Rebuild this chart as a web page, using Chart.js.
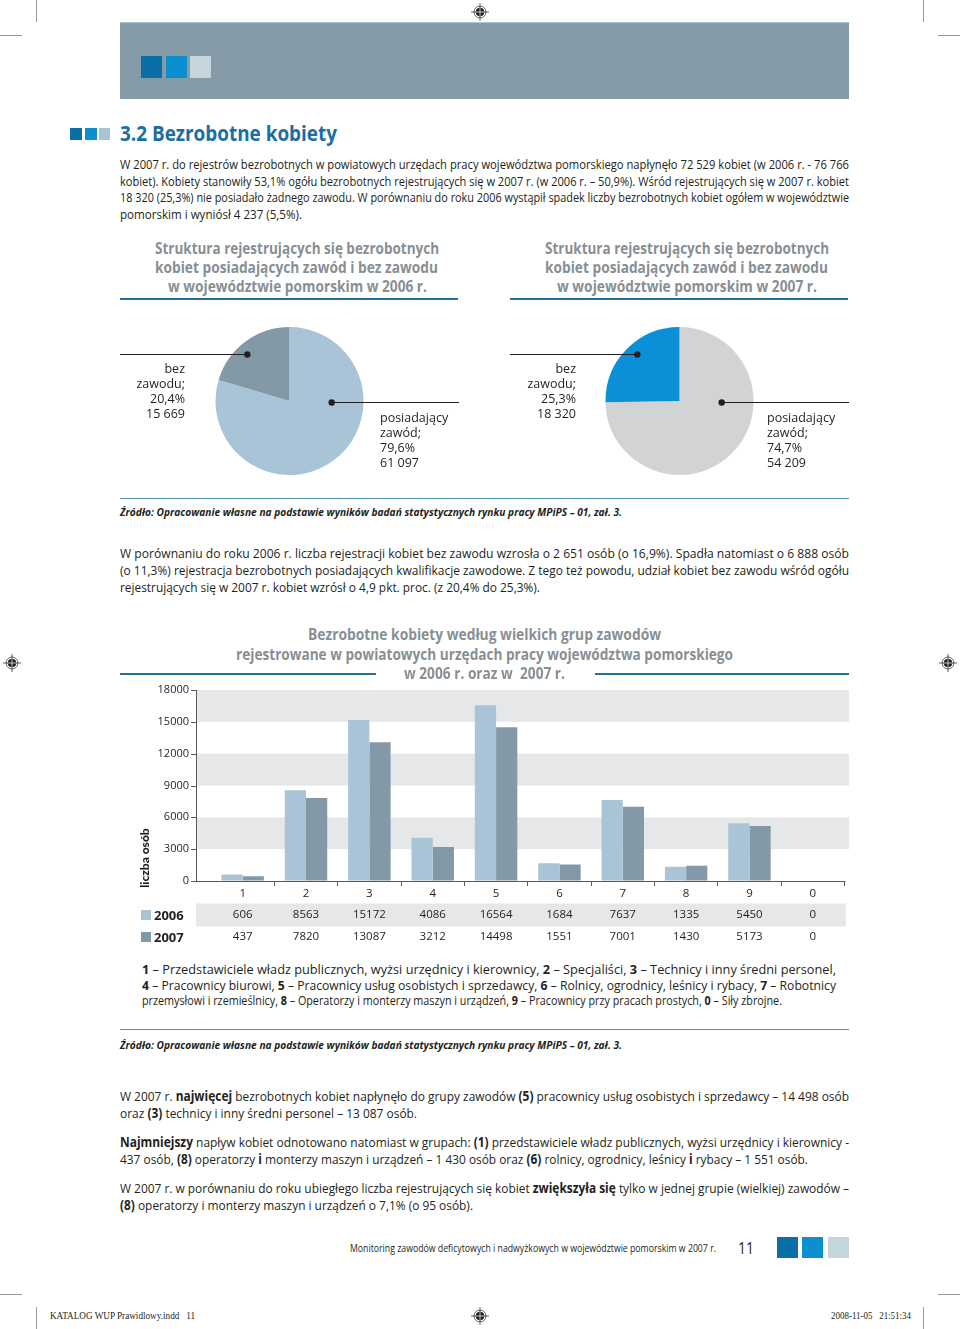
<!DOCTYPE html>
<html><head><meta charset="utf-8">
<script src="https://cdn.jsdelivr.net/npm/chart.js@4.4.0/dist/chart.umd.min.js"></script>
<style>
html,body{margin:0;padding:0;background:#fff;}
body{width:960px;height:1329px;position:relative;overflow:hidden;font-family:"Open Sans",sans-serif;color:#231f20;}
.a{position:absolute;}
.L{position:absolute;white-space:nowrap;line-height:16px;height:16px;}
.p1{font-size:12.5px;}
.p2{font-size:13.5px;}
.lg{font-size:13px;}
.tt{font-size:15.5px;font-weight:700;color:#878f95;}
.h{font-size:21px;font-weight:700;color:#1b6ea3;line-height:24px;height:24px;}
.src{font-size:11px;font-weight:700;font-style:italic;}
.ft{font-size:10px;}
.pg{font-size:17px;line-height:20px;height:20px;}
.sl{font-family:"Liberation Serif",serif;font-size:9.5px;}
.pl{position:absolute;font-size:12.5px;line-height:15px;color:#231f20;}
canvas{position:absolute;}
</style></head>
<body>
<script>
// ---------- chart data ----------
const pieLabels = ['posiadający zawód', 'bez zawodu'];
const pie2006 = [61097, 15669];
const pie2007 = [54209, 18320];
const pct2006 = ['79,6%', '20,4%'];
const pct2007 = ['74,7%', '25,3%'];
const colors2006 = ['#a8c4d6', '#8499a7'];
const colors2007 = ['#d1d3d5', '#0b8fd6'];

const groups = ['1','2','3','4','5','6','7','8','9','0'];
const v2006 = [606, 8563, 15172, 4086, 16564, 1684, 7637, 1335, 5450, 0];
const v2007 = [437, 7820, 13087, 3212, 14498, 1551, 7001, 1430, 5173, 0];
const yTicks = [0, 3000, 6000, 9000, 12000, 15000, 18000];
const seriesNames = ['2006', '2007'];
</script>

<!-- crop marks -->
<div class="a" style="left:36px;top:0;width:1px;height:22px;background:#999"></div>
<div class="a" style="left:923px;top:0;width:1px;height:22px;background:#999"></div>
<div class="a" style="left:0;top:35px;width:22px;height:1px;background:#999"></div>
<div class="a" style="left:938px;top:35px;width:22px;height:1px;background:#999"></div>
<div class="a" style="left:0;top:1294px;width:22px;height:1px;background:#999"></div>
<div class="a" style="left:938px;top:1294px;width:22px;height:1px;background:#999"></div>
<div class="a" style="left:36px;top:1307px;width:1px;height:22px;background:#999"></div>
<div class="a" style="left:923px;top:1307px;width:1px;height:22px;background:#999"></div>

<!-- header bar -->
<div class="a" style="left:120px;top:22px;width:729px;height:76px;background:#869ba8;border-top:1px solid #a9c0cc"></div>
<div class="a" style="left:141px;top:56px;width:21px;height:22px;background:#0a6fa6"></div>
<div class="a" style="left:166px;top:56px;width:21px;height:22px;background:#0b8fcf"></div>
<div class="a" style="left:190px;top:56px;width:21px;height:22px;background:#c5d5de"></div>

<!-- title squares -->
<div class="a" style="left:70px;top:128px;width:12px;height:12px;background:#0a6fa6"></div>
<div class="a" style="left:85px;top:128px;width:12px;height:12px;background:#0b8fcf"></div>
<div class="a" style="left:99px;top:128px;width:11px;height:12px;background:#a9c4d6"></div>

<!-- underlines -->
<div class="a" style="left:120px;top:298px;width:338px;height:2px;background:#22709f"></div>
<div class="a" style="left:510px;top:298px;width:338px;height:2px;background:#22709f"></div>
<div class="a" style="left:120px;top:498px;width:729px;height:1px;background:#4a90b2"></div>
<div class="a" style="left:120px;top:673px;width:256px;height:2px;background:#22709f"></div>
<div class="a" style="left:595px;top:673px;width:254px;height:2px;background:#22709f"></div>
<div class="a" style="left:120px;top:1029px;width:729px;height:1px;background:#4a90b2"></div>

<!-- footer squares -->
<div class="a" style="left:777px;top:1237px;width:21px;height:21px;background:#0a6fa6"></div>
<div class="a" style="left:802px;top:1237px;width:21px;height:21px;background:#0b8fcf"></div>
<div class="a" style="left:828px;top:1237px;width:21px;height:21px;background:#c5d5de"></div>

<!-- registration marks -->
<svg class="a" style="left:0;top:0" width="960" height="1329">
  <g id="rm" fill="none" stroke="#222" stroke-width="0.7">
  </g>
</svg>

<canvas id="pieA" width="339" height="180" style="left:120px;top:310px;width:339px;height:180px"></canvas>
<canvas id="pieB" width="339" height="180" style="left:510px;top:310px;width:339px;height:180px"></canvas>
<canvas id="bars" width="730" height="280" style="left:120px;top:680px;width:730px;height:280px"></canvas>

<div class="a" style="left:112px;top:850px;width:66px;height:16px;transform:rotate(-90deg);transform-origin:center;text-align:center;font-family:Lato,sans-serif;font-weight:900;font-size:12px;line-height:16px;color:#231f20;">liczba osób</div>

<script>
// registration marks
(function(){
  const g=document.getElementById('rm');
  [[480,12],[12,663],[948,663],[480,1316]].forEach(([x,y])=>{
    g.insertAdjacentHTML('beforeend',
      `<circle cx="${x}" cy="${y}" r="6"/><circle cx="${x}" cy="${y}" r="4" fill="#222"/>`+
      `<line x1="${x-9}" y1="${y}" x2="${x+9}" y2="${y}"/><line x1="${x}" y1="${y-9}" x2="${x}" y2="${y+9}"/>`+
      `<line x1="${x-4}" y1="${y}" x2="${x+4}" y2="${y}" stroke="#fff"/><line x1="${x}" y1="${y-4}" x2="${x}" y2="${y+4}" stroke="#fff"/>`);
  });
})();

// text lines: [x, yCenter, width, class, html, justify]
const lines = [
 [120,133,217,'h','3.2 Bezrobotne kobiety'],
 [120,165,729,'p1','W 2007 r. do rejestrów bezrobotnych w powiatowych urzędach pracy województwa pomorskiego napłynęło 72 529 kobiet (w 2006 r. - 76 766',1],
 [120,182,729,'p1','kobiet). Kobiety stanowiły 53,1% ogółu bezrobotnych rejestrujących się w 2007 r. (w 2006 r. – 50,9%). Wśród rejestrujących się w 2007 r. kobiet',1],
 [120,198,729,'p1','18 320 (25,3%) nie posiadało żadnego zawodu. W porównaniu do roku 2006 wystąpił spadek liczby bezrobotnych kobiet ogółem w województwie',1],
 [120,215,182,'p1','pomorskim i wyniósł 4 237 (5,5%).'],
 [155,248,284,'tt','Struktura rejestrujących się bezrobotnych'],
 [155,267,283,'tt','kobiet posiadających zawód i bez zawodu'],
 [168,286,259,'tt','w województwie pomorskim w 2006 r.'],
 [545,248,284,'tt','Struktura rejestrujących się bezrobotnych'],
 [545,267,283,'tt','kobiet posiadających zawód i bez zawodu'],
 [557,286,260,'tt','w województwie pomorskim w 2007 r.'],
 [120,512,502,'src','Źródło: Opracowanie własne na podstawie wyników badań statystycznych rynku pracy MPiPS – 01, zał. 3.'],
 [120,553,729,'p2','W porównaniu do roku 2006 r. liczba rejestracji kobiet bez zawodu wzrosła o 2 651 osób (o 16,9%). Spadła natomiast o 6 888 osób',1],
 [120,570,729,'p2','(o 11,3%) rejestracja bezrobotnych posiadających kwalifikacje zawodowe. Z tego też powodu, udział kobiet bez zawodu wśród ogółu',1],
 [120,587,420,'p2','rejestrujących się w 2007 r. kobiet wzrósł o 4,9 pkt. proc. (z 20,4% do 25,3%).'],
 [308,634,353,'tt','Bezrobotne kobiety według wielkich grup zawodów'],
 [236,654,497,'tt','rejestrowane w powiatowych urzędach pracy województwa pomorskiego'],
 [404,673,161,'tt','w 2006 r. oraz w&nbsp; 2007 r.'],
 [142,969,694,'lg','<b>1</b> – Przedstawiciele władz publicznych, wyżsi urzędnicy i kierownicy, <b>2</b> – Specjaliści, <b>3</b> – Technicy i inny średni personel,',1],
 [142,985,694,'lg','<b>4</b> – Pracownicy biurowi, <b>5</b> – Pracownicy usług osobistych i sprzedawcy, <b>6</b> – Rolnicy, ogrodnicy, leśnicy i rybacy, <b>7</b> – Robotnicy',1],
 [142,1000,640,'lg','przemysłowi i rzemieślnicy, <b>8</b> – Operatorzy i monterzy maszyn i urządzeń, <b>9</b> – Pracownicy przy pracach prostych, <b>0</b> – Siły zbrojne.'],
 [120,1045,502,'src','Źródło: Opracowanie własne na podstawie wyników badań statystycznych rynku pracy MPiPS – 01, zał. 3.'],
 [120,1096,729,'p2','W 2007 r. <b>najwięcej</b> bezrobotnych kobiet napłynęło do grupy zawodów <b>(5)</b> pracownicy usług osobistych i sprzedawcy – 14 498 osób',1],
 [120,1113,297,'p2','oraz <b>(3)</b> technicy i inny średni personel – 13 087 osób.'],
 [120,1142,729,'p2','<b>Najmniejszy</b> napływ kobiet odnotowano natomiast w grupach: <b>(1)</b> przedstawiciele władz publicznych, wyżsi urzędnicy i kierownicy -',1],
 [120,1159,688,'p2','437 osób, <b>(8)</b> operatorzy <b>i</b> monterzy maszyn i urządzeń – 1 430 osób oraz <b>(6)</b> rolnicy, ogrodnicy, leśnicy <b>i</b> rybacy – 1 551 osób.'],
 [120,1188,729,'p2','W 2007 r. w porównaniu do roku ubiegłego liczba rejestrujących się kobiet <b>zwiększyła się</b> tylko w jednej grupie (wielkiej) zawodów –',1],
 [120,1205,353,'p2','<b>(8)</b> operatorzy i monterzy maszyn i urządzeń o 7,1% (o 95 osób).'],
 [350,1248,366,'ft','Monitoring zawodów deficytowych i nadwyżkowych w województwie pomorskim w 2007 r.'],
 [738,1248,16,'pg','11'],
 [50,1316,145,'sl','KATALOG WUP Prawidlowy.indd&nbsp;&nbsp; 11'],
 [831,1316,80,'sl','2008-11-05&nbsp;&nbsp; 21:51:34']
];
lines.forEach(([x,y,w,c,html,j])=>{
  const d=document.createElement('div');
  d.className='L '+c;
  const lh = c==='h'?24:(c==='pg'?20:16);
  d.style.left=x+'px'; d.style.top=(y-lh/2)+'px';
  d.innerHTML='<span>'+html+'</span>';
  d.dataset.w=w; if(j) d.dataset.j=1;
  document.body.appendChild(d);
});
function fitAll(){
  document.querySelectorAll('.L').forEach(el=>{
    const w=+el.dataset.w, s=el.firstElementChild;
    s.style.display='inline-block'; s.style.transform='';
    const nat=s.getBoundingClientRect().width;
    if(el.dataset.j && nat<w){
      s.style.display='inline'; el.style.width=w+'px';
      el.style.textAlign='justify'; el.style.textAlignLast='justify';
    } else {
      s.style.transformOrigin='0 0'; s.style.transform='scaleX('+(w/nat)+')';
    }
  });
}
fitAll();

// pie labels
const fmt = n => String(n).replace(/\B(?=(\d{3})+(?!\d))/g,' ');
function pieLabel(right, left, top, html){
  const d=document.createElement('div'); d.className='pl';
  if(right!==null){ d.style.right=(960-right)+'px'; d.style.textAlign='right'; }
  else d.style.left=left+'px';
  d.style.top=top+'px'; d.innerHTML=html; document.body.appendChild(d);
}
const lbl = (name, pct, val) => name.split(' ').map((w,i,a)=>w+(i===a.length-1?';':'')).join('<br>')+'<br>'+pct+'<br>'+fmt(val);
pieLabel(185,null,361,lbl(pieLabels[1],pct2006[1],pie2006[1]));
pieLabel(null,380,410,lbl(pieLabels[0],pct2006[0],pie2006[0]));
pieLabel(576,null,361,lbl(pieLabels[1],pct2007[1],pie2007[1]));
pieLabel(null,767,410,lbl(pieLabels[0],pct2007[0],pie2007[0]));

// ---------- charts ----------
const FONT = '"Open Sans", sans-serif';
Chart.defaults.font.family = FONT;
Chart.defaults.color = '#231f20';

const leader = {
  id:'leader',
  afterDraw(c){
    const m=c.getDatasetMeta(0), a=m.data[0];
    const cx=a.x, cy=a.y, r=a.outerRadius, ctx=c.ctx;
    ctx.save();
    ctx.strokeStyle='#231f20'; ctx.fillStyle='#231f20'; ctx.lineWidth=1;
    const pb={x:cx-0.57*r, y:Math.round(cy-0.635*r)+0.5};
    const pp={x:cx+0.57*r, y:Math.round(cy+0.015*r)+0.5};
    ctx.beginPath(); ctx.moveTo(0,pb.y); ctx.lineTo(pb.x,pb.y); ctx.stroke();
    ctx.beginPath(); ctx.moveTo(pp.x,pp.y); ctx.lineTo(c.width,pp.y); ctx.stroke();
    [pb,pp].forEach(p=>{ctx.beginPath(); ctx.arc(p.x,p.y,3.2,0,Math.PI*2); ctx.fill();});
    ctx.restore();
  }
};
function makePie(id, data, colors){
  new Chart(document.getElementById(id), {
    type:'pie',
    data:{labels:pieLabels, datasets:[{data, backgroundColor:colors, borderWidth:0}]},
    options:{responsive:false, animation:false, devicePixelRatio:1,
      layout:{padding:{top:17,bottom:15,left:0,right:0}},
      plugins:{legend:{display:false}, tooltip:{enabled:false}}},
    plugins:[leader]
  });
}
makePie('pieA', pie2006, colors2006);
makePie('pieB', pie2007, colors2007);

const barColors = ['#a8c4d6', '#8499a7'];
const AXL = 76;   // y-axis line position inside canvas
const bgPlugin = {
  id:'bands',
  beforeDatasetsDraw(c){
    const y=c.scales.y, ctx=c.ctx;
    ctx.save();
    ctx.fillStyle='#e6e7e8';
    yTicks.forEach(v=>{
      if(v>0 && (v/3000)%2===0){
        const t=y.getPixelForValue(v), b=y.getPixelForValue(v-3000);
        ctx.fillRect(AXL, t, 729-AXL, b-t);
      }
    });
    ctx.restore();
  },
  afterDatasetsDraw(c){
    const y=c.scales.y, ctx=c.ctx, ca=c.chartArea;
    ctx.save();
    ctx.strokeStyle='#58595b'; ctx.lineWidth=1;
    ctx.beginPath(); ctx.moveTo(AXL+0.5, ca.top); ctx.lineTo(AXL+0.5, ca.bottom); ctx.stroke();
    yTicks.forEach(v=>{const p=Math.round(y.getPixelForValue(v))+0.5;
      ctx.beginPath(); ctx.moveTo(AXL-5,p); ctx.lineTo(AXL,p); ctx.stroke();});
    const yb=Math.round(ca.bottom)+0.5;
    ctx.beginPath(); ctx.moveTo(AXL, yb); ctx.lineTo(ca.right+1, yb); ctx.stroke();
    ctx.restore();
  },
  afterDraw(c){
    const x=c.scales.x, ctx=c.ctx, ca=c.chartArea;
    const r1=ca.bottom+34, r2=ca.bottom+56;
    ctx.save();
    ctx.fillStyle='#e6e7e8';
    ctx.fillRect(AXL, r1-11.5, 726-AXL, 23);
    ctx.font='11.5px '+FONT; ctx.fillStyle='#231f20';
    ctx.textAlign='center'; ctx.textBaseline='middle';
    groups.forEach((g,i)=>{
      const px=x.getPixelForValue(i);
      ctx.fillText(String(v2006[i]), px, r1);
      ctx.fillText(String(v2007[i]), px, r2);
    });
    [r1,r2].forEach((ry,k)=>{
      ctx.fillStyle=barColors[k]; ctx.fillRect(21, ry-5, 10, 10);
      ctx.fillStyle='#231f20'; ctx.textAlign='left';
      ctx.font='700 13px '+FONT; ctx.fillText(seriesNames[k], 34, ry+1);
    });
    ctx.restore();
  }
};

new Chart(document.getElementById('bars'), {
  type:'bar',
  data:{labels:groups, datasets:[
    {label:seriesNames[0], data:v2006, backgroundColor:barColors[0], borderWidth:0, barPercentage:1, categoryPercentage:0.67},
    {label:seriesNames[1], data:v2007, backgroundColor:barColors[1], borderWidth:0, barPercentage:1, categoryPercentage:0.67}
  ]},
  options:{responsive:false, animation:false, devicePixelRatio:1,
    layout:{padding:{left:0,right:5.5,top:10,bottom:54}},
    plugins:{legend:{display:false}, tooltip:{enabled:false}},
    scales:{
      x:{grid:{display:true, drawOnChartArea:false, drawTicks:true, tickLength:5, offset:true,
             color:ctx=>ctx.index===0?'rgba(0,0,0,0)':'#58595b'},
         border:{display:false},
         ticks:{font:{size:11.5}, padding:1, color:'#231f20'},
         afterFit(s){s.height=25;}},
      y:{min:0, max:18000,
         afterBuildTicks(s){s.ticks=yTicks.map(v=>({value:v}));},
         grid:{display:true, drawOnChartArea:false, drawTicks:true, tickLength:19, color:'rgba(0,0,0,0)'},
         border:{display:false},
         ticks:{font:{size:11}, padding:3, color:'#231f20', callback:v=>String(v)},
         afterFit(s){s.width=91;}}
    }
  },
  plugins:[bgPlugin]
});
</script>
</body></html>
